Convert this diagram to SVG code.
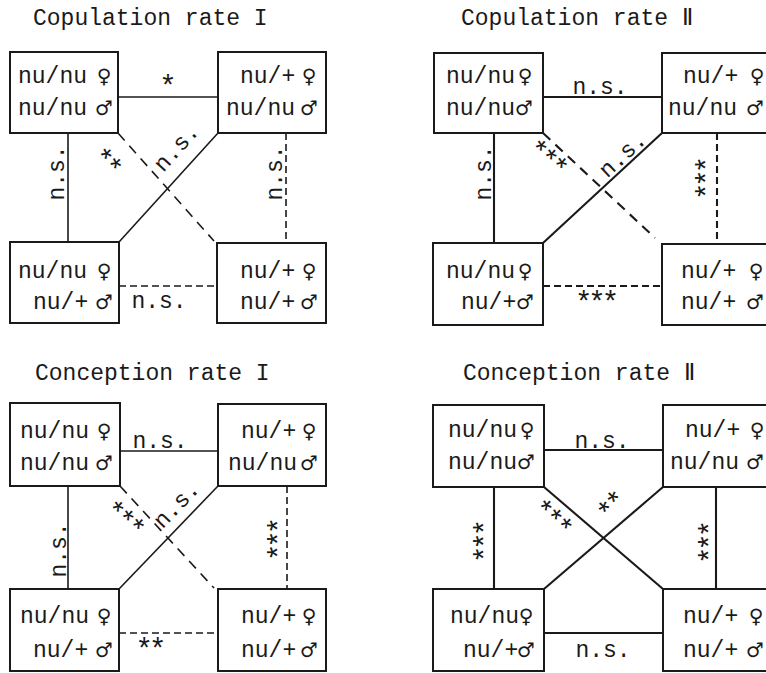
<svg xmlns="http://www.w3.org/2000/svg" width="766" height="673" viewBox="0 0 766 673">
  <style>
    text { font-family: "Liberation Mono", "DejaVu Sans Mono", monospace; font-size: 23px; fill: #1a1a1a; }
    .sym { font-family: "DejaVu Sans", "Noto Sans", sans-serif; font-size: 20px; text-anchor: middle; }
    .lbl { text-anchor: middle; }
    .st { text-anchor: middle; font-size: 29px; letter-spacing: -4px; }
    .box { fill: #fff; stroke: #1a1a1a; stroke-width: 2; }
    .ln { stroke: #1a1a1a; stroke-width: 1.6; fill: none; }
    .ln2 { stroke: #1a1a1a; stroke-width: 2.1; fill: none; }
    .dash { stroke-dasharray: 7 4; }
    .ddash { stroke-dasharray: 10 7; }
  </style>
  <rect width="766" height="673" fill="#fff"/>

  <!-- panel titles -->
  <g id="titles">
    <text x="33" y="25">Copulation rate I</text>
    <text x="461" y="25">Copulation rate Ⅱ</text>
    <text x="35" y="380">Conception rate I</text>
    <text x="463" y="380">Conception rate Ⅱ</text>
  </g>

  <g id="connectors">
    <!-- Copulation rate I -->
    <g id="conn-cop1">
      <line class="ln" x1="118" y1="97" x2="218" y2="97"/>
      <line class="ln" x1="68" y1="133" x2="68" y2="242"/>
      <line class="ln" x1="119" y1="242" x2="218" y2="133"/>
      <line class="ln ddash" x1="118" y1="133" x2="214" y2="241"/>
      <line class="ln dash" x1="286" y1="133" x2="286" y2="243"/>
      <line class="ln dash" x1="119" y1="286" x2="217" y2="286"/>
      <text class="st" transform="translate(164 81)" x="2" y="15">*</text>
      <text class="lbl" transform="translate(58 175) rotate(-90)" x="2" y="6">n.s.</text>
      <text class="lbl" transform="translate(176 150) rotate(-48)" x="2" y="6">n.s.</text>
      <text class="st" transform="translate(108 156) rotate(45)" x="2" y="15">**</text>
      <text class="lbl" transform="translate(276 175) rotate(-90)" x="2" y="6">n.s.</text>
      <text class="lbl" transform="translate(157 302)" x="2" y="6">n.s.</text>
    </g>
    <!-- Copulation rate II -->
    <g id="conn-cop2">
      <line class="ln2" x1="543" y1="97" x2="662" y2="97"/>
      <line class="ln2" x1="494" y1="133" x2="494" y2="243"/>
      <line class="ln2" x1="543" y1="243" x2="662" y2="133"/>
      <line class="ln2 ddash" x1="543" y1="133" x2="655" y2="238"/>
      <line class="ln2 dash" x1="717" y1="133" x2="717" y2="244"/>
      <line class="ln2 dash" x1="543" y1="286" x2="662" y2="286"/>
      <text class="lbl" transform="translate(598 88)" x="2" y="6">n.s.</text>
      <text class="lbl" transform="translate(485 175) rotate(-90)" x="2" y="6">n.s.</text>
      <text class="lbl" transform="translate(622 157) rotate(-43)" x="2" y="6">n.s.</text>
      <text class="st" transform="translate(548 152) rotate(40)" x="2" y="15">***</text>
      <text class="st" transform="translate(702 182) rotate(-90)" x="2" y="15">***</text>
      <text class="st" transform="translate(593 297)" x="2" y="15">***</text>
    </g>
    <!-- Conception rate I -->
    <g id="conn-con1">
      <line class="ln" x1="120" y1="451" x2="218" y2="451"/>
      <line class="ln" x1="68" y1="486" x2="68" y2="589"/>
      <line class="ln" x1="119" y1="589" x2="218" y2="486"/>
      <line class="ln ddash" x1="120" y1="486" x2="214" y2="588"/>
      <line class="ln dash" x1="287" y1="486" x2="287" y2="589"/>
      <line class="ln dash" x1="119" y1="633" x2="218" y2="633"/>
      <text class="lbl" transform="translate(158 442)" x="2" y="6">n.s.</text>
      <text class="lbl" transform="translate(60 552) rotate(-90)" x="2" y="6">n.s.</text>
      <text class="lbl" transform="translate(176 507) rotate(-46)" x="2" y="6">n.s.</text>
      <text class="st" transform="translate(125 513) rotate(40)" x="2" y="15">***</text>
      <text class="st" transform="translate(274 543) rotate(-90)" x="2" y="15">***</text>
      <text class="st" transform="translate(147 644)" x="2" y="15">**</text>
    </g>
    <!-- Conception rate II -->
    <g id="conn-con2">
      <line class="ln2" x1="544" y1="450" x2="663" y2="450"/>
      <line class="ln2" x1="494" y1="487" x2="494" y2="589"/>
      <line class="ln2" x1="716" y1="487" x2="716" y2="589"/>
      <line class="ln2" x1="544" y1="487" x2="663" y2="589"/>
      <line class="ln2" x1="544" y1="589" x2="663" y2="487"/>
      <line class="ln2" x1="544" y1="633" x2="663" y2="633"/>
      <text class="lbl" transform="translate(600 442)" x="2" y="6">n.s.</text>
      <text class="st" transform="translate(480 545) rotate(-90)" x="2" y="15">***</text>
      <text class="st" transform="translate(705 546) rotate(-90)" x="2" y="15">***</text>
      <text class="st" transform="translate(553 512) rotate(42)" x="2" y="15">***</text>
      <text class="st" transform="translate(606 505) rotate(-48)" x="2" y="15">**</text>
      <text class="lbl" transform="translate(601 651)" x="2" y="6">n.s.</text>
    </g>
  </g>

  <!-- Copulation rate I nodes -->
  <g id="cop1-nunu-nunu">
    <rect class="box" x="10" y="52" width="108" height="81"/>
    <text x="18" y="83">nu/nu</text><text class="sym" x="104" y="83">♀</text>
    <text x="18" y="115">nu/nu</text><text class="sym" x="104" y="115">♂</text>
  </g>
  <g id="cop1-het-nunu">
    <rect class="box" x="218" y="52" width="108" height="81"/>
    <text x="240" y="83">nu/+</text><text class="sym" x="309" y="83">♀</text>
    <text x="226" y="115">nu/nu</text><text class="sym" x="309" y="115">♂</text>
  </g>
  <g id="cop1-nunu-het">
    <rect class="box" x="10" y="242" width="109" height="81"/>
    <text x="18" y="278">nu/nu</text><text class="sym" x="104" y="278">♀</text>
    <text x="33" y="309">nu/+</text><text class="sym" x="104" y="309">♂</text>
  </g>
  <g id="cop1-het-het">
    <rect class="box" x="217" y="243" width="109" height="80"/>
    <text x="240" y="278">nu/+</text><text class="sym" x="309" y="278">♀</text>
    <text x="240" y="309">nu/+</text><text class="sym" x="309" y="309">♂</text>
  </g>

  <!-- Copulation rate II nodes -->
  <g id="cop2-nunu-nunu">
    <rect class="box" x="434" y="53" width="109" height="80"/>
    <text x="446" y="83">nu/nu</text><text class="sym" x="525" y="83">♀</text>
    <text x="446" y="115">nu/nu</text><text class="sym" x="524" y="115">♂</text>
  </g>
  <g id="cop2-het-nunu">
    <rect class="box" x="662" y="53" width="113" height="80"/>
    <text x="683" y="83">nu/+</text><text class="sym" x="757" y="83">♀</text>
    <text x="668" y="115">nu/nu</text><text class="sym" x="755" y="115">♂</text>
  </g>
  <g id="cop2-nunu-het">
    <rect class="box" x="433" y="243" width="110" height="82"/>
    <text x="446" y="278">nu/nu</text><text class="sym" x="525" y="278">♀</text>
    <text x="461" y="309">nu/+</text><text class="sym" x="525" y="309">♂</text>
  </g>
  <g id="cop2-het-het">
    <rect class="box" x="662" y="244" width="113" height="81"/>
    <text x="681" y="278">nu/+</text><text class="sym" x="756" y="278">♀</text>
    <text x="681" y="309">nu/+</text><text class="sym" x="755" y="309">♂</text>
  </g>

  <!-- Conception rate I nodes -->
  <g id="con1-nunu-nunu">
    <rect class="box" x="10" y="403" width="110" height="83"/>
    <text x="20" y="438">nu/nu</text><text class="sym" x="104" y="438">♀</text>
    <text x="20" y="470">nu/nu</text><text class="sym" x="104" y="470">♂</text>
  </g>
  <g id="con1-het-nunu">
    <rect class="box" x="218" y="404" width="108" height="82"/>
    <text x="241" y="438">nu/+</text><text class="sym" x="309" y="438">♀</text>
    <text x="228" y="470">nu/nu</text><text class="sym" x="309" y="470">♂</text>
  </g>
  <g id="con1-nunu-het">
    <rect class="box" x="10" y="589" width="109" height="82"/>
    <text x="20" y="623">nu/nu</text><text class="sym" x="104" y="623">♀</text>
    <text x="33" y="657">nu/+</text><text class="sym" x="104" y="657">♂</text>
  </g>
  <g id="con1-het-het">
    <rect class="box" x="218" y="589" width="108" height="82"/>
    <text x="241" y="623">nu/+</text><text class="sym" x="309" y="623">♀</text>
    <text x="241" y="657">nu/+</text><text class="sym" x="309" y="657">♂</text>
  </g>

  <!-- Conception rate II nodes -->
  <g id="con2-nunu-nunu">
    <rect class="box" x="433" y="405" width="111" height="82"/>
    <text x="448" y="437">nu/nu</text><text class="sym" x="527" y="437">♀</text>
    <text x="448" y="469">nu/nu</text><text class="sym" x="526" y="469">♂</text>
  </g>
  <g id="con2-het-nunu">
    <rect class="box" x="663" y="405" width="112" height="82"/>
    <text x="685" y="437">nu/+</text><text class="sym" x="757" y="437">♀</text>
    <text x="670" y="469">nu/nu</text><text class="sym" x="755" y="469">♂</text>
  </g>
  <g id="con2-nunu-het">
    <rect class="box" x="433" y="589" width="111" height="82"/>
    <text x="450" y="623">nu/nu</text><text class="sym" x="526" y="623">♀</text>
    <text x="463" y="657">nu/+</text><text class="sym" x="526" y="657">♂</text>
  </g>
  <g id="con2-het-het">
    <rect class="box" x="663" y="589" width="112" height="82"/>
    <text x="683" y="623">nu/+</text><text class="sym" x="756" y="623">♀</text>
    <text x="683" y="657">nu/+</text><text class="sym" x="755" y="657">♂</text>
  </g>
</svg>
